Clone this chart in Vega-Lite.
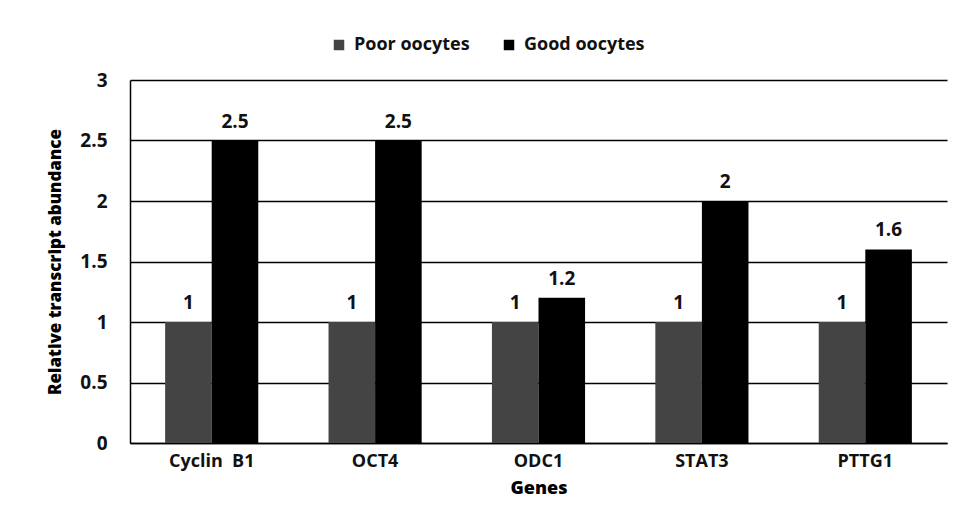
{
  "$schema": "https://vega.github.io/schema/vega-lite/v6.json",
  "width": 817,
  "height": 363,
  "autosize": "none",
  "padding": {"left": 130, "top": 80, "right": 15, "bottom": 88},
  "background": "white",
  "data": {
    "values": [
      {"gene": "Cyclin\u00a0\u00a0B1", "group": "Poor oocytes", "value": 1},
      {"gene": "Cyclin\u00a0\u00a0B1", "group": "Good oocytes", "value": 2.5},
      {"gene": "OCT4", "group": "Poor oocytes", "value": 1},
      {"gene": "OCT4", "group": "Good oocytes", "value": 2.5},
      {"gene": "ODC1", "group": "Poor oocytes", "value": 1},
      {"gene": "ODC1", "group": "Good oocytes", "value": 1.2},
      {"gene": "STAT3", "group": "Poor oocytes", "value": 1},
      {"gene": "STAT3", "group": "Good oocytes", "value": 2},
      {"gene": "PTTG1", "group": "Poor oocytes", "value": 1},
      {"gene": "PTTG1", "group": "Good oocytes", "value": 1.6}
    ]
  },
  "encoding": {
    "x": {
      "field": "gene",
      "type": "nominal",
      "sort": null,
      "scale": {"paddingInner": 0.43, "paddingOuter": 0.215},
      "axis": {
        "title": "Genes",
        "labelAngle": 0,
        "labelFont": "Open Sans",
        "labelFontSize": 18,
        "labelFontWeight": "bold",
        "labelColor": "#111",
        "labelPadding": 9,
        "titleFont": "Open Sans",
        "titleFontSize": 18,
        "titleFontWeight": 800,
        "titlePadding": 9,
        "ticks": false,
        "domainColor": "#000",
        "domainWidth": 1.5
      }
    },
    "xOffset": {"field": "group", "type": "nominal", "sort": ["Poor oocytes", "Good oocytes"], "scale": {"paddingInner": 0}},
    "y": {
      "field": "value",
      "type": "quantitative",
      "scale": {"domain": [0, 3]},
      "axis": {
        "title": "Relative transcript abundance",
        "values": [0, 0.5, 1, 1.5, 2, 2.5, 3],
        "format": "~g",
        "labelFont": "Open Sans",
        "labelFontSize": 19,
        "labelFontWeight": "bold",
        "labelColor": "#111",
        "labelPadding": 23,
        "ticks": false,
        "grid": true,
        "gridColor": "#000",
        "gridWidth": 1.3,
        "domainColor": "#000",
        "domainWidth": 1.5,
        "titleFont": "Open Sans",
        "titleFontSize": 17,
        "titleFontWeight": 800,
        "titlePadding": 15
      }
    }
  },
  "layer": [
    {
      "mark": {"type": "bar"},
      "encoding": {
        "color": {
          "field": "group",
          "type": "nominal",
          "sort": ["Poor oocytes", "Good oocytes"],
          "scale": {"domain": ["Poor oocytes", "Good oocytes"], "range": ["#444444", "#000000"]},
          "legend": {
            "title": null,
            "orient": "none",
            "legendX": 200,
            "legendY": -44,
            "direction": "horizontal",
            "symbolType": "square",
            "symbolSize": 110,
            "symbolStrokeWidth": 0,
            "labelFont": "Open Sans",
            "labelFontSize": 18,
            "labelFontWeight": "bold",
            "labelColor": "#111",
            "labelOffset": 6,
            "columnPadding": 30
          }
        }
      }
    },
    {
      "mark": {"type": "text", "baseline": "alphabetic", "dy": -13, "font": "Open Sans", "fontSize": 19, "fontWeight": "bold", "color": "#111"},
      "encoding": {"text": {"field": "value", "type": "quantitative", "format": "~g"}}
    }
  ],
  "config": {
    "view": {"stroke": null},
    "axis": {"gridOpacity": 1}
  }
}
